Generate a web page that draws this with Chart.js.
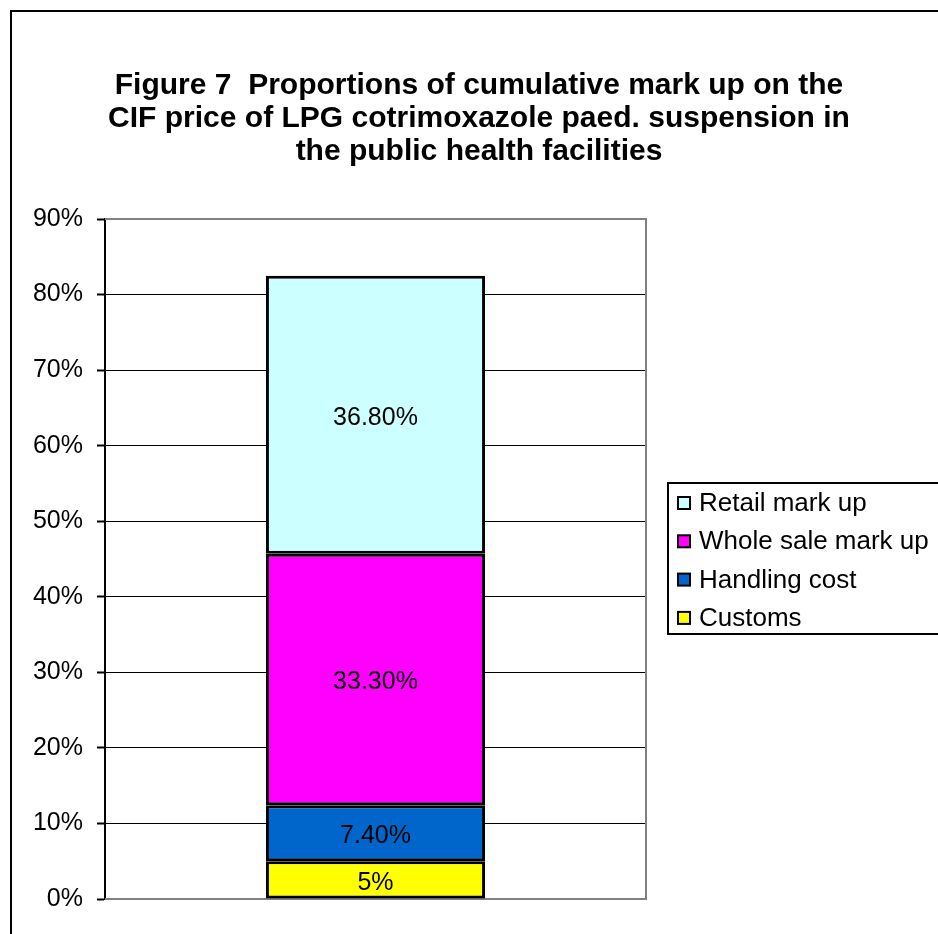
<!DOCTYPE html>
<html>
<head>
<meta charset="utf-8">
<script src="https://cdn.jsdelivr.net/npm/chart.js@4"></script>
<style>
  html, body { margin: 0; padding: 0; background: #fff; }
  #wrap { width: 938px; height: 934px; position: relative; }
</style>
</head>
<body>
<div id="wrap"><canvas id="markupChart" width="938" height="934"></canvas></div>
<script>
// --- dati ---
const titleLines = [
  'Figure 7  Proportions of cumulative mark up on the',
  'CIF price of LPG cotrimoxazole paed. suspension in',
  'the public health facilities'
];
const categories = [''];
const seriesNames = ['Customs', 'Handling cost', 'Whole sale mark up', 'Retail mark up'];
const seriesValues = [5, 7.4, 33.3, 36.8];
const valueLabels = ['5%', '7.40%', '33.30%', '36.80%'];
const seriesColors = ['#FFFF00', '#0066CC', '#FF00FF', '#CCFFFF'];
const yTicks = [0, 10, 20, 30, 40, 50, 60, 70, 80, 90];

const FONT = "'Liberation Sans', Arial, sans-serif";

// cornice esterna, titolo centrato sulla pagina, bordi grigi dell'area del grafico
const framePlugin = {
  id: 'frame',
  beforeDraw(chart) {
    const c = chart.ctx;
    c.save();
    c.strokeStyle = '#000';
    c.lineWidth = 2;
    c.strokeRect(11, 11, 1000, 1000);
    c.font = 'bold 30px ' + FONT;
    c.fillStyle = '#000';
    c.textAlign = 'center';
    c.textBaseline = 'middle';
    titleLines.forEach((t, i) => c.fillText(t, 479, 86 + i * 33));
    c.restore();
  },
  beforeDatasetsDraw(chart) {
    const { ctx: c, chartArea: a } = chart;
    c.save();
    c.strokeStyle = '#808080';
    c.lineWidth = 2;
    c.beginPath();
    c.moveTo(a.left, a.top);
    c.lineTo(a.right, a.top);
    c.lineTo(a.right, a.bottom);
    c.lineTo(a.left, a.bottom);
    c.stroke();
    c.restore();
  }
};

// etichette dei valori al centro di ogni segmento
const labelPlugin = {
  id: 'segLabels',
  afterDatasetsDraw(chart) {
    const c = chart.ctx;
    c.save();
    c.font = '25px ' + FONT;
    c.fillStyle = '#000';
    c.textAlign = 'center';
    c.textBaseline = 'middle';
    chart.data.datasets.forEach((ds, i) => {
      chart.getDatasetMeta(i).data.forEach(bar => {
        const p = bar.getProps(['x', 'y', 'base'], true);
        c.fillText(valueLabels[i], p.x, (p.y + p.base) / 2 + 3);
      });
    });
    c.restore();
  }
};

// legenda a destra, in ordine inverso (serie in alto per prima)
const legendPlugin = {
  id: 'sideLegend',
  afterDraw(chart) {
    const c = chart.ctx;
    c.save();
    c.strokeStyle = '#000';
    c.lineWidth = 2;
    c.strokeRect(668, 483, 300, 151);
    c.font = '26px ' + FONT;
    c.textBaseline = 'middle';
    const items = chart.data.datasets.slice().reverse();
    items.forEach((ds, k) => {
      const y = 503 + k * 38.3;
      c.fillStyle = ds.backgroundColor;
      c.fillRect(678, y - 6, 12, 12);
      c.lineWidth = 2;
      c.strokeRect(678, y - 6, 12, 12);
      c.fillStyle = '#000';
      c.fillText(ds.label, 699, y + 1);
    });
    c.restore();
  }
};

const datasets = seriesNames.map((name, i) => ({
  label: name,
  data: [seriesValues[i]],
  backgroundColor: seriesColors[i],
  borderColor: '#000',
  borderWidth: 3,
  borderSkipped: false,
  barPercentage: 0.405,
  categoryPercentage: 1
}));

new Chart(document.getElementById('markupChart'), {
  type: 'bar',
  data: { labels: categories, datasets },
  options: {
    responsive: false,
    animation: false,
    layout: { padding: { left: 0, right: 292, top: 219, bottom: 35 } },
    plugins: {
      legend: { display: false },
      tooltip: { enabled: false },
      title: { display: false }
    },
    scales: {
      x: { stacked: true, display: false },
      y: {
        stacked: true,
        min: 0,
        max: 90,
        afterFit(scale) { scale.width = 105; },
        afterBuildTicks(scale) { scale.ticks = yTicks.map(v => ({ value: v })); },
        ticks: {
          color: '#000',
          padding: 14,
          font: { family: FONT, size: 25 },
          callback: v => v + '%'
        },
        grid: {
          color: ctx => (ctx.tick && (ctx.tick.value === 0 || ctx.tick.value === 90)) ? 'rgba(0,0,0,0)' : '#000',
          lineWidth: 1,
          tickColor: '#000',
          tickLength: 8,
          tickWidth: 2
        },
        border: { color: '#000', width: 2 }
      }
    }
  },
  plugins: [framePlugin, labelPlugin, legendPlugin]
});
</script>
</body>
</html>
